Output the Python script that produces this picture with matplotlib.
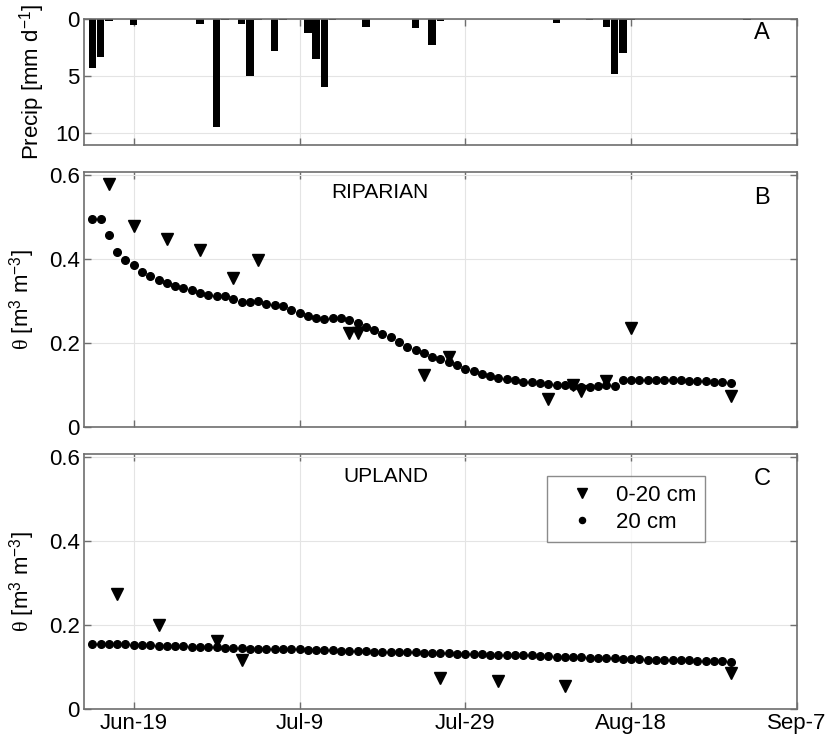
import numpy as np
import matplotlib
matplotlib.use("Agg")
import matplotlib.pyplot as plt

plt.rcParams["font.family"] = ["Liberation Sans", "DejaVu Sans"]
plt.rcParams["mathtext.fontset"] = "custom"
plt.rcParams["mathtext.rm"] = "Liberation Sans"
plt.rcParams["mathtext.it"] = "Liberation Serif"

# days counted from Jun-19
precip_days = [-5, -4, -3, 0, 8, 10, 11, 13, 14, 15, 17, 18, 21, 22, 23, 24,
               28, 34, 36, 37, 51, 55, 57, 58, 59, 60, 74]
precip_mm = [4.25, 3.3, 0.2, 0.5, 0.4, 9.4, 0.1, 0.4, 5.0, 0.1, 2.8, 0.1, 1.2, 3.5, 5.9, 0.1,
             0.65, 0.8, 2.3, 0.2, 0.3, 0.1, 0.65, 4.8, 2.95, 0.1, 0.1]

probe_days = list(range(-5, 73))

rip_20cm = [0.495, 0.496, 0.457, 0.416, 0.398, 0.386, 0.370, 0.360, 0.351, 0.343,
            0.336, 0.331, 0.326, 0.320, 0.314, 0.312, 0.312, 0.304, 0.297, 0.298,
            0.300, 0.293, 0.290, 0.289, 0.279, 0.271, 0.265, 0.259, 0.257, 0.261,
            0.261, 0.255, 0.247, 0.239, 0.232, 0.222, 0.214, 0.202, 0.191, 0.184,
            0.176, 0.168, 0.162, 0.156, 0.148, 0.139, 0.134, 0.127, 0.122, 0.118,
            0.114, 0.112, 0.108, 0.107, 0.104, 0.102, 0.100, 0.100, 0.098, 0.096,
            0.096, 0.097, 0.100, 0.098, 0.113, 0.113, 0.113, 0.113, 0.113, 0.113,
            0.112, 0.112, 0.110, 0.110, 0.110, 0.108, 0.107, 0.104]

rip_tdr_days = [-3, 0, 4, 8, 12, 15, 26, 27, 35, 38, 50, 53, 54, 57, 60, 72]
rip_tdr = [0.580, 0.478, 0.449, 0.422, 0.355, 0.398, 0.223, 0.223, 0.124, 0.166,
           0.066, 0.100, 0.086, 0.110, 0.235, 0.074]

up_20cm = [0.155, 0.155, 0.154, 0.154, 0.153, 0.152, 0.152, 0.151, 0.150, 0.150,
           0.149, 0.149, 0.148, 0.148, 0.147, 0.146, 0.145, 0.144, 0.144, 0.143,
           0.143, 0.143, 0.142, 0.142, 0.141, 0.141, 0.140, 0.140, 0.139, 0.139,
           0.138, 0.138, 0.137, 0.137, 0.136, 0.136, 0.135, 0.135, 0.134, 0.134,
           0.133, 0.133, 0.132, 0.132, 0.131, 0.131, 0.130, 0.130, 0.129, 0.129,
           0.128, 0.128, 0.127, 0.127, 0.126, 0.125, 0.124, 0.124, 0.123, 0.122,
           0.121, 0.121, 0.120, 0.120, 0.119, 0.118, 0.118, 0.117, 0.117, 0.116,
           0.116, 0.115, 0.115, 0.114, 0.114, 0.113, 0.113, 0.111]

up_tdr_days = [-2, 3, 10, 13, 37, 44, 52, 72]
up_tdr = [0.272, 0.200, 0.161, 0.116, 0.072, 0.066, 0.054, 0.084]

xtick_days = [0, 20, 40, 60, 80]
xtick_labels = ["Jun-19", "Jul-9", "Jul-29", "Aug-18", "Sep-7"]
theta_ticks = [0, 0.2, 0.4, 0.6]
theta_labels = ["0", "0.2", "0.4", "0.6"]

FS = 16
spine_col = "#6e6e6e"


def style(ax):
    ax.set_xlim(-6, 80)
    ax.set_xticks(xtick_days)
    ax.grid(True, color="#e4e4e4", lw=0.8)
    ax.set_axisbelow(True)
    ax.tick_params(direction="in", top=True, right=True, length=5,
                   labelsize=FS, color=spine_col, width=1, pad=3)
    for s in ax.spines.values():
        s.set_color(spine_col)
        s.set_linewidth(1.2)


fig = plt.figure(figsize=(8.27, 7.39), dpi=100)
L, W = 0.1016, 0.862
axA = fig.add_axes([L, 0.804, W, 0.170])
axB = fig.add_axes([L, 0.422, W, 0.345])
axC = fig.add_axes([L, 0.041, W, 0.345])

# A: precipitation
axA.bar(precip_days, precip_mm, width=0.9, color="black")
style(axA)
axA.set_ylim(11, 0)
axA.set_yticks([0, 5, 10])
axA.set_xticklabels([])
axA.set_ylabel("Precip [mm d$^{-1}$]", fontsize=FS)
axA.text(0.951, 0.89, "A", transform=axA.transAxes, fontsize=FS + 1,
         ha="center", va="center")

# B: riparian
axB.plot(probe_days, rip_20cm, "o", color="black", ms=5.5)
axB.plot(rip_tdr_days, rip_tdr, "v", color="black", ms=9)
style(axB)
axB.set_ylim(0, 0.607)
axB.set_yticks(theta_ticks)
axB.set_yticklabels(theta_labels)
axB.set_xticklabels([])
axB.set_ylabel("$\\theta$ [m$^{3}$ m$^{-3}$]", fontsize=FS)
axB.text(0.415, 0.92, "RIPARIAN", transform=axB.transAxes, fontsize=FS - 1,
         ha="center", va="center")
axB.text(0.951, 0.90, "B", transform=axB.transAxes, fontsize=FS + 1,
         ha="center", va="center")

# C: upland
pt, = axC.plot(probe_days, up_20cm, "o", color="black", ms=5.5)
tri, = axC.plot(up_tdr_days, up_tdr, "v", color="black", ms=9)
style(axC)
axC.set_ylim(0, 0.607)
axC.set_yticks(theta_ticks)
axC.set_yticklabels(theta_labels)
axC.set_xticklabels(xtick_labels)
axC.set_ylabel("$\\theta$ [m$^{3}$ m$^{-3}$]", fontsize=FS)
axC.text(0.424, 0.91, "UPLAND", transform=axC.transAxes, fontsize=FS - 1,
         ha="center", va="center")
axC.text(0.951, 0.90, "C", transform=axC.transAxes, fontsize=FS + 1,
         ha="center", va="center")
leg = axC.legend([tri, pt], ["0-20 cm", "20 cm"], loc="upper right",
                 bbox_to_anchor=(0.871, 0.914), fontsize=FS, frameon=True,
                 fancybox=False, edgecolor=spine_col, markerscale=0.8,
                 handlelength=2.4, handletextpad=0.3, borderpad=0.4,
                 labelspacing=0.3, borderaxespad=0)
leg.get_frame().set_linewidth(1.0)

axA.yaxis.set_label_coords(-0.052, 0.5)
axB.yaxis.set_label_coords(-0.066, 0.5)
axC.yaxis.set_label_coords(-0.066, 0.5)

fig.savefig("out.png", dpi=100)
